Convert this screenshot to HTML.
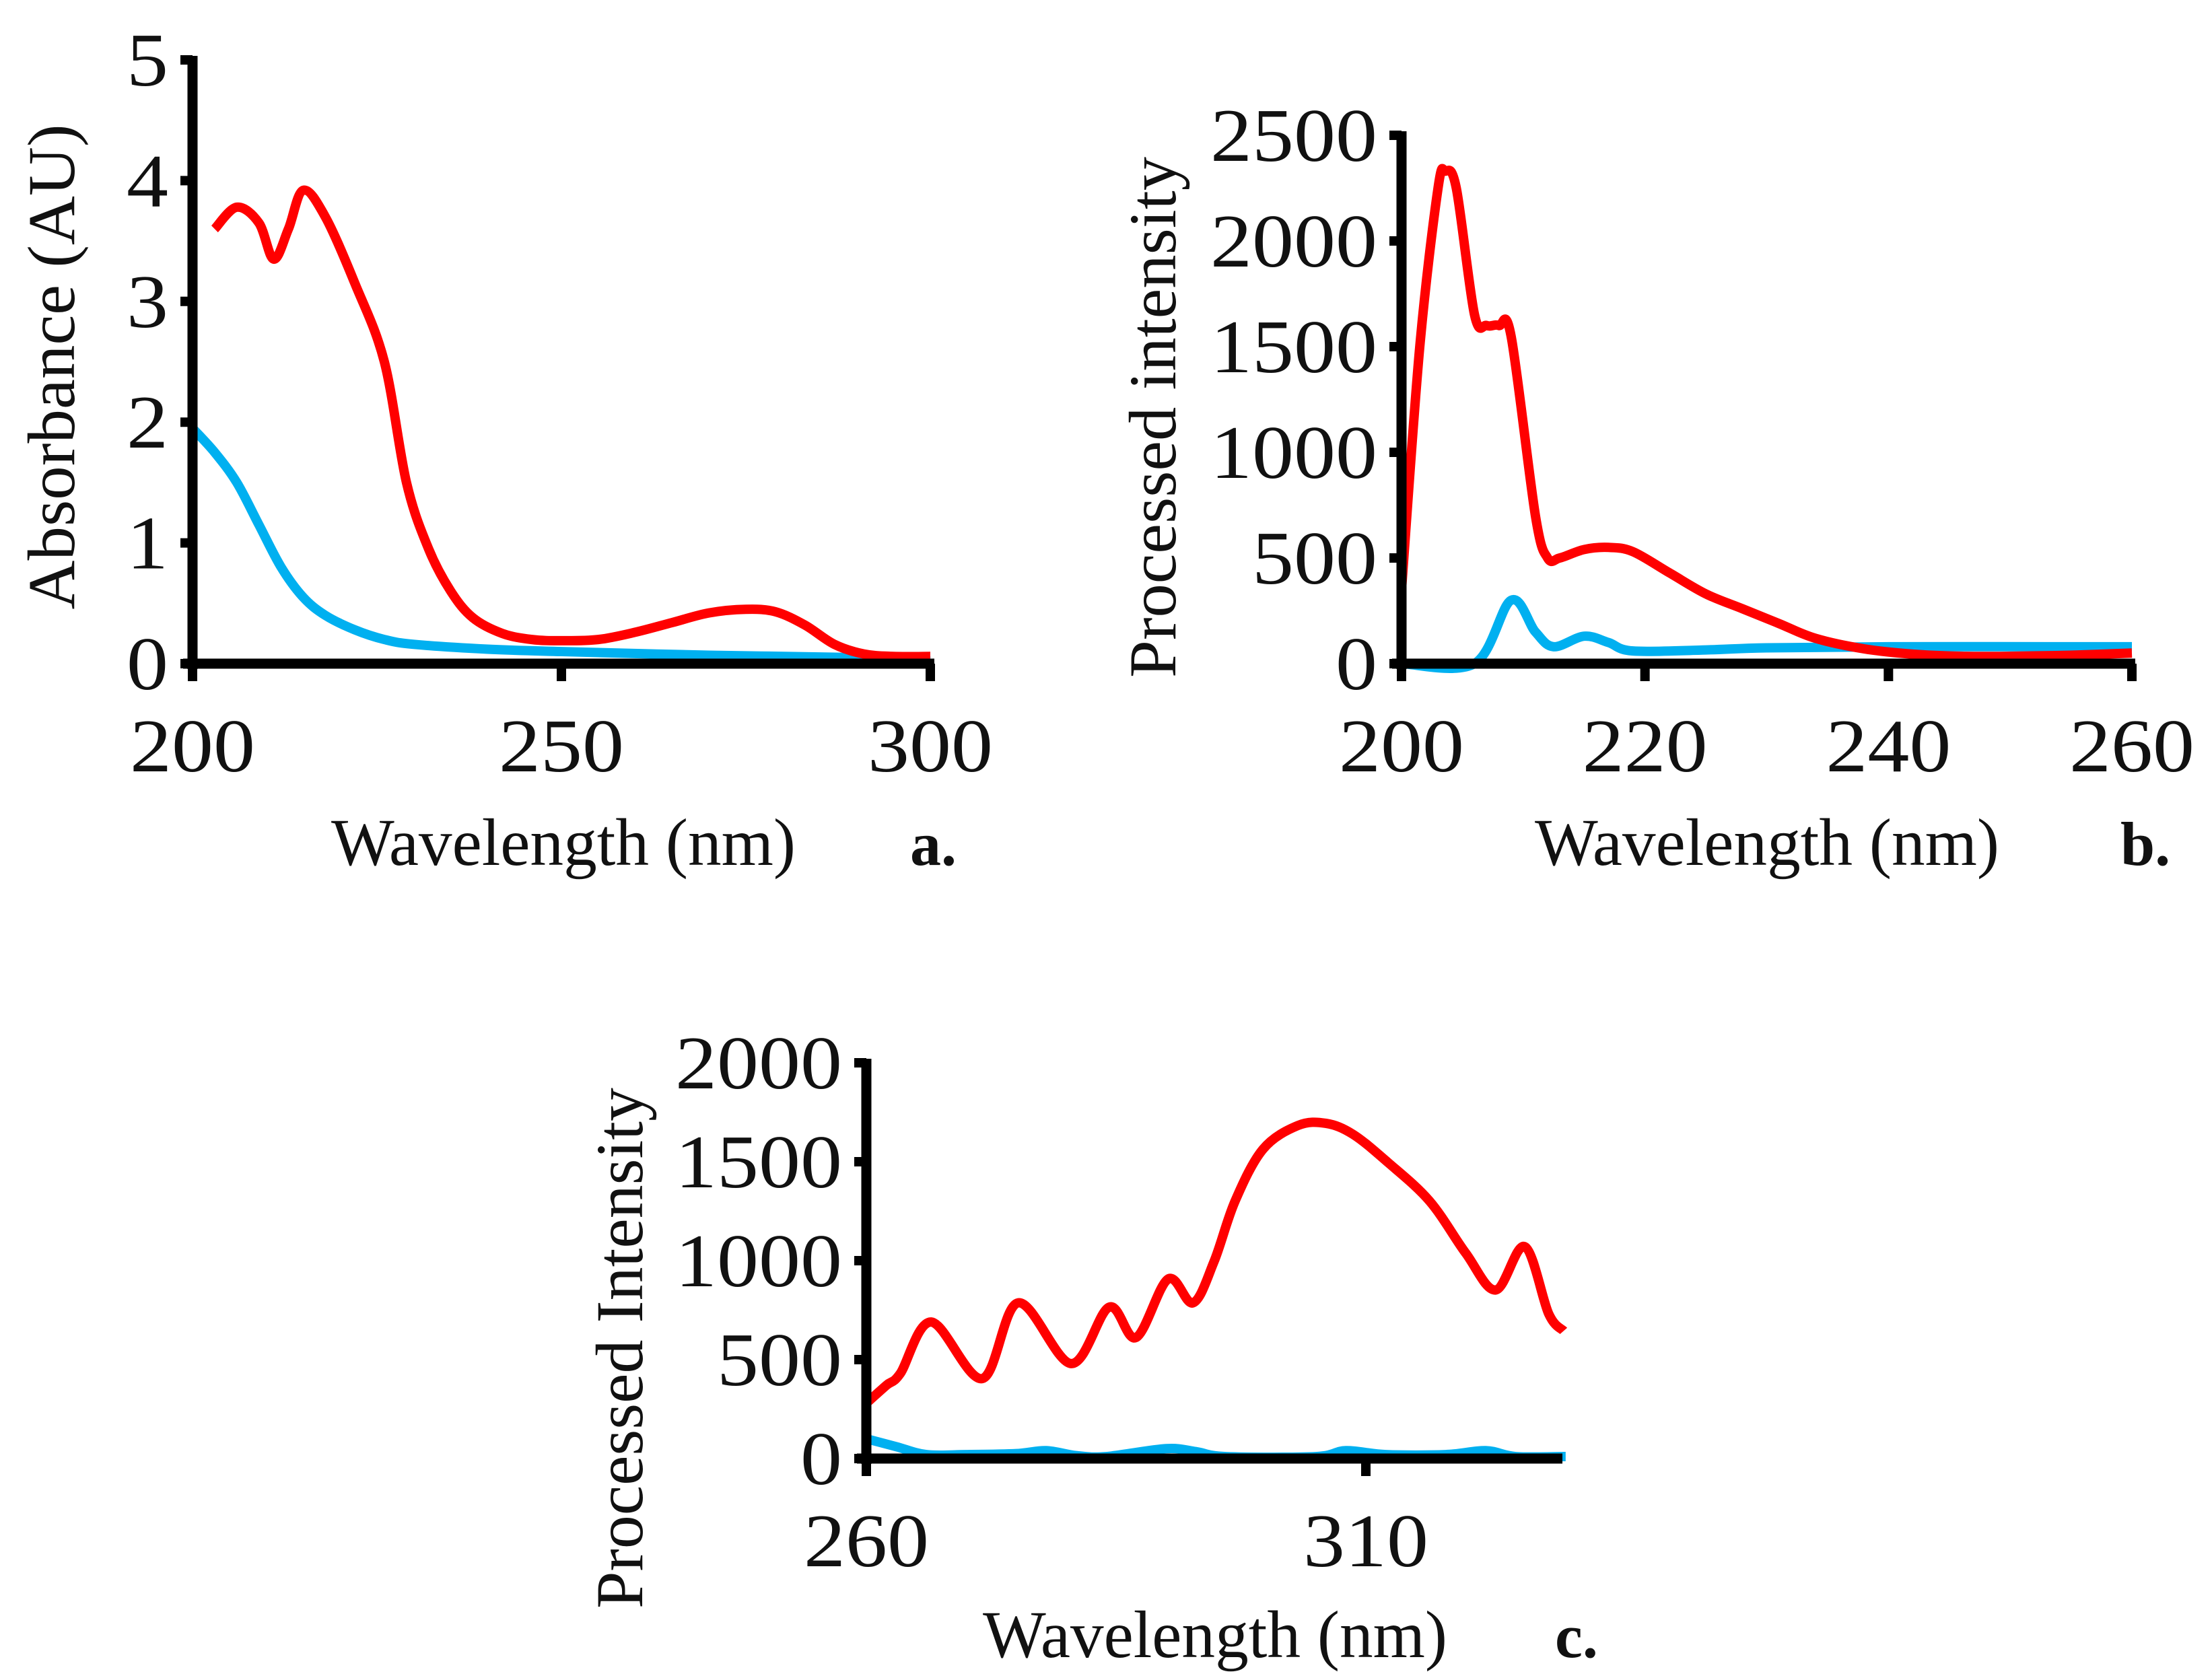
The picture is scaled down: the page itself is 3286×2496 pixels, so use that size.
<!DOCTYPE html>
<html><head><meta charset="utf-8"><style>
html,body{margin:0;padding:0;background:#fff;}
svg{display:block;}
text{font-family:"Liberation Serif",serif;fill:#111;}
</style></head>
<body>
<svg id="fig" width="3286" height="2496" viewBox="0 0 3286 2496" xmlns="http://www.w3.org/2000/svg"></svg>
<script>
// Panel a data
const aRedX=[203,206,209,211,213,215,218,222,226,229,232,235,238,242,246,250,255,260,265,270,275,279,283,287,291,295,300];
const aRedY=[3.6,3.78,3.65,3.35,3.6,3.92,3.7,3.15,2.5,1.5,0.95,0.6,0.38,0.25,0.2,0.19,0.2,0.26,0.34,0.42,0.45,0.43,0.32,0.16,0.08,0.06,0.06];
const aBlueX=[200,203,206,209,212,215,218,222,226,230,240,250,270,290,300];
const aBlueY=[1.95,1.75,1.5,1.15,0.8,0.55,0.4,0.28,0.2,0.16,0.12,0.1,0.07,0.05,0.02];
const aXTicks=[200,250,300];
const aYTicks=[0,1,2,3,4,5];
// Panel b data
const bRedX=[200,201.5,203,203.6,204.5,206,207,208,209,211,212,213,215,217,219,222,225,228,231,234,238,242,246,250,255,260];
const bRedY=[350,1500,2250,2330,2250,1650,1600,1600,1550,700,500,500,540,550,530,430,330,260,190,120,70,45,35,35,40,50];
const bBlueX=[200,206,209,211,212.5,215,217,219,225,230,240,260];
const bBlueY=[0,0,300,150,80,130,100,60,65,75,80,80];
const bXTicks=[200,220,240,260];
const bYTicks=[0,500,1000,1500,2000,2500];
// Panel c data
const cRedX=[260,262,263.4,266.5,271.6,275.2,280.5,284.3,287,290.2,292.7,294.8,296.9,299.7,303.2,306,308.7,312.2,316.4,320,323,325.9,328.3,329.8];
const cRedY=[280,370,430,690,404,787,480,765,612,907,787,995,1300,1563,1683,1694,1639,1497,1300,1038,852,1071,732,645];
const cBlueX=[260,263,266,270,275,278,281,284,290,293,296,305,308,312,318,322,325,330];
const cBlueY=[100,60,20,20,25,40,15,10,50,35,10,10,40,20,20,40,10,10];
const cXTicks=[260,310];
const cYTicks=[0,500,1000,1500,2000];

const NS="http://www.w3.org/2000/svg";
const svg=document.getElementById('fig');
function mk(tag,attrs,parent){const e=document.createElementNS(NS,tag);for(const k in attrs)e.setAttribute(k,attrs[k]);(parent||svg).appendChild(e);return e;}
function smoothPath(pts){
  let d=`M${pts[0][0]},${pts[0][1]}`;
  for(let i=0;i<pts.length-1;i++){
    const p0=pts[i-1]||pts[i],p1=pts[i],p2=pts[i+1],p3=pts[i+2]||p2;
    const c1=[p1[0]+(p2[0]-p0[0])/6,p1[1]+(p2[1]-p0[1])/6];
    const c2=[p2[0]-(p3[0]-p1[0])/6,p2[1]-(p3[1]-p1[1])/6];
    d+=`C${c1[0]},${c1[1]} ${c2[0]},${c2[1]} ${p2[0]},${p2[1]}`;
  }
  return d;
}
function panel(cfg){
  const g=mk('g',{});
  
  
  const sx=v=>cfg.x0+(v-cfg.xmin)/(cfg.xmax-cfg.xmin)*(cfg.x1-cfg.x0);
  const sy=v=>cfg.y0-(v-cfg.ymin)/(cfg.ymax-cfg.ymin)*(cfg.y0-cfg.y1);
  cfg.series.forEach(s=>{
    const pts=s.x.map((v,i)=>[sx(v),sy(s.y[i])]);
    const p=mk('path',{d:smoothPath(pts),fill:'none',stroke:s.color,'stroke-width':14,'stroke-linejoin':'round'},g);
    
    
  });
  const ax=mk('line',{x1:cfg.x0,y1:cfg.y1-6,x2:cfg.x0,y2:cfg.y0+8,stroke:'#000','stroke-width':15},g);
  
  
  const bx=mk('line',{x1:cfg.x0-14,y1:cfg.y0,x2:cfg.xe,y2:cfg.y0,stroke:'#000','stroke-width':15},g);
  
  
  cfg.yt.forEach(v=>{
    mk('line',{x1:cfg.x0-18,y1:sy(v),x2:cfg.x0,y2:sy(v),stroke:'#000','stroke-width':14},g);
    const s=String(v);
    const t=mk('text',{x:cfg.x0-36,y:sy(v)+38,'text-anchor':'end','font-size':112,textLength:s.length*62,lengthAdjust:'spacingAndGlyphs'},g);
    t.textContent=s;
    
    
  });
  cfg.xt.forEach(v=>{
    mk('line',{x1:sx(v),y1:cfg.y0,x2:sx(v),y2:cfg.y0+26,stroke:'#000','stroke-width':14},g);
    const s=String(v);
    const t=mk('text',{x:sx(v),y:cfg.y0+160,'text-anchor':'middle','font-size':112,textLength:s.length*62,lengthAdjust:'spacingAndGlyphs'},g);
    t.textContent=s;
    
    
  });
  const xt=mk('text',{x:cfg.xtX,y:cfg.xtY,'text-anchor':'middle','font-size':100,textLength:690,lengthAdjust:'spacingAndGlyphs'},g);
  xt.textContent='Wavelength (nm)';
  
  
  const yt=mk('text',{x:0,y:0,'text-anchor':'middle','font-size':100,textLength:cfg.ytLen,lengthAdjust:'spacingAndGlyphs',transform:`translate(${cfg.ytX},${cfg.ytY}) rotate(-90)`},g);
  yt.textContent=cfg.ytitle;
  
  
  const lb=mk('text',{x:cfg.lbX,y:cfg.xtY,'font-size':92,'font-weight':'bold'},g);
  lb.textContent=cfg.label;
  
  
}
panel({name:'panel-a',x0:286,x1:1382,xe:1388,xmin:200,xmax:300,y0:986,y1:89,ymin:0,ymax:5,
  series:[{name:'blue-series',x:aBlueX,y:aBlueY,color:'#00b0f0'},{name:'red-series',x:aRedX,y:aRedY,color:'#ff0000'}],
  xt:aXTicks,yt:aYTicks,xtX:837,xtY:1285,ytX:110,ytY:545,ytLen:721,ytitle:'Absorbance (AU)',label:'a.',lbX:1352});
panel({name:'panel-b',x0:2082,x1:3167,xe:3172,xmin:200,xmax:260,y0:986,y1:201,ymin:0,ymax:2500,
  series:[{name:'blue-series',x:bBlueX,y:bBlueY,color:'#00b0f0'},{name:'red-series',x:bRedX,y:bRedY,color:'#ff0000'}],
  xt:bXTicks,yt:bYTicks,xtX:2625,xtY:1285,ytX:1746,ytY:620,ytLen:774,ytitle:'Processed intensity',label:'b.',lbX:3150});
panel({name:'panel-c',x0:1287,x1:2029,xe:2321,xmin:260,xmax:310,y0:2167,y1:1579,ymin:0,ymax:2000,
  series:[{name:'blue-series',x:cBlueX,y:cBlueY,color:'#00b0f0'},{name:'red-series',x:cRedX,y:cRedY,color:'#ff0000'}],
  xt:cXTicks,yt:cYTicks,xtX:1805,xtY:2462,ytX:954,ytY:2003,ytLen:774,ytitle:'Processed Intensity',label:'c.',lbX:2310});
</script>
</body></html>
